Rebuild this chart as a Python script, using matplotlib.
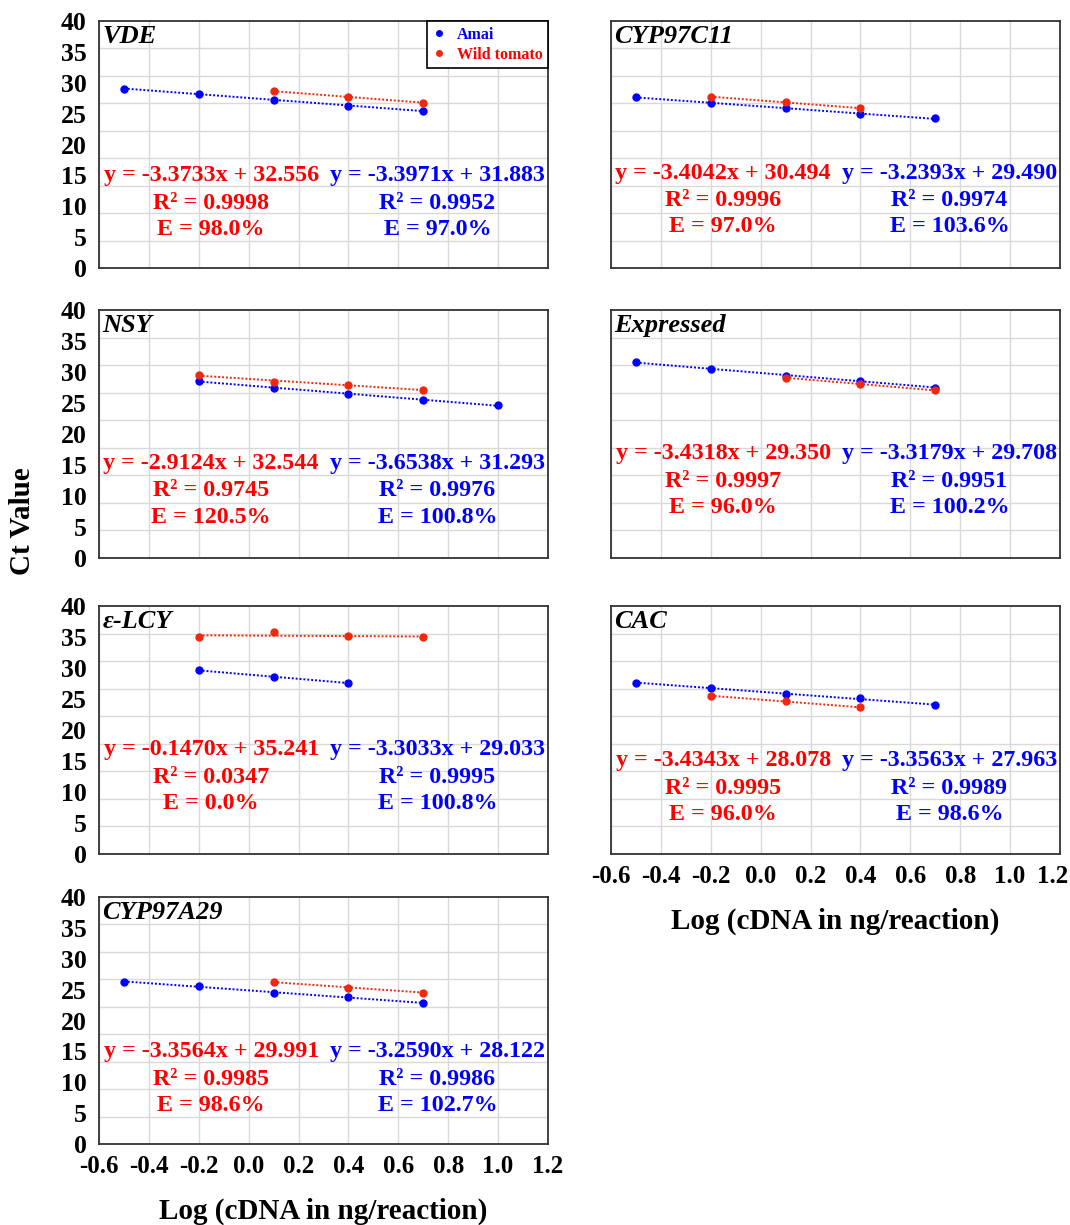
import matplotlib
matplotlib.use('Agg')
import matplotlib.pyplot as plt
import numpy as np
from matplotlib.lines import Line2D
from matplotlib.ticker import FixedLocator, FixedFormatter
from matplotlib.transforms import ScaledTranslation

plt.rcParams['font.family'] = ['Liberation Serif', 'DejaVu Serif']
plt.rcParams['font.weight'] = 'bold'
plt.rcParams['axes.labelweight'] = 'bold'
plt.rcParams['axes.unicode_minus'] = False

# ---- data ----
genes = ['VDE', 'CYP97C11', 'NSY', 'Expressed', 'ε-LCY', 'CAC', 'CYP97A29']

amai_x = [[-0.5, -0.2, 0.1, 0.4, 0.7],
          [-0.5, -0.2, 0.1, 0.4, 0.7],
          [-0.2, 0.1, 0.4, 0.7, 1.0],
          [-0.5, -0.2, 0.1, 0.4, 0.7],
          [-0.2, 0.1, 0.4],
          [-0.5, -0.2, 0.1, 0.4, 0.7],
          [-0.5, -0.2, 0.1, 0.4, 0.7]]
amai_ct = [[32.7, 31.7, 30.6, 29.6, 28.6],
           [31.2, 30.0, 29.1, 28.0, 27.3],
           [32.1, 30.9, 29.7, 28.7, 27.7],
           [35.5, 34.3, 33.1, 32.2, 30.9],
           [33.3, 32.2, 31.0],
           [31.1, 30.1, 29.0, 28.3, 27.0],
           [29.6, 28.7, 27.6, 26.7, 25.7]]

wild_x = [[0.1, 0.4, 0.7],
          [-0.2, 0.1, 0.4],
          [-0.2, 0.1, 0.4, 0.7],
          [0.1, 0.4, 0.7],
          [-0.2, 0.1, 0.4, 0.7],
          [-0.2, 0.1, 0.4],
          [0.1, 0.4, 0.7]]
wild_ct = [[32.2, 31.2, 30.1],
           [31.2, 30.2, 29.1],
           [33.2, 32.0, 31.4, 30.5],
           [32.7, 31.6, 30.4],
           [39.3, 40.2, 39.5, 39.3],
           [28.7, 27.7, 26.6],
           [29.5, 28.5, 27.6]]

wild_eq = ['y = -3.3733x + 32.556', 'y = -3.4042x + 30.494', 'y = -2.9124x + 32.544',
           'y = -3.4318x + 29.350', 'y = -0.1470x + 35.241', 'y = -3.4343x + 28.078',
           'y = -3.3564x + 29.991']
wild_r2 = ['0.9998', '0.9996', '0.9745', '0.9997', '0.0347', '0.9995', '0.9985']
wild_e = ['98.0%', '97.0%', '120.5%', '96.0%', '0.0%', '96.0%', '98.6%']

amai_eq = ['y = -3.3971x + 31.883', 'y = -3.2393x + 29.490', 'y = -3.6538x + 31.293',
           'y = -3.3179x + 29.708', 'y = -3.3033x + 29.033', 'y = -3.3563x + 27.963',
           'y = -3.2590x + 28.122']
amai_r2 = ['0.9952', '0.9974', '0.9976', '0.9951', '0.9995', '0.9989', '0.9986']
amai_e = ['97.0%', '103.6%', '100.8%', '100.2%', '100.8%', '98.6%', '102.7%']

x_ticks = [-0.6, -0.4, -0.2, 0.0, 0.2, 0.4, 0.6, 0.8, 1.0, 1.2]
y_labels = ['0', '5', '10', '15', '20', '25', '30', '35', '40']

# ---- layout ----
W, H = 1070, 1225
cols = [99, 611]
rows = [(21, 268), (310, 558), (606, 854), (897, 1144)]
panel_pos = [(0, 0), (1, 0), (0, 1), (1, 1), (0, 2), (1, 2), (0, 3)]
eq_y = [16.8, 17.3, 17.2, 18.9, 18.9, 16.9, 16.8]
bottom_panels = ['CAC', 'CYP97A29']

BLUE = '#0000FF'
RED = '#FF0000'
RED_M = '#F0280E'
FS_EQ = 17.3

fig = plt.figure(figsize=(W / 100, H / 100), dpi=100)

for i, g in enumerate(genes):
    c, r = panel_pos[i]
    top, bot = rows[r]
    ax = fig.add_axes([cols[c] / W, 1 - bot / H, 449 / W, (bot - top) / H])
    ax.set_xlim(-0.6, 1.2)
    ax.set_ylim(0, 45)

    # grid every 5 Ct; labels spread over the frame like the original
    ax.yaxis.set_minor_locator(FixedLocator(np.arange(0, 46, 5)))
    ax.yaxis.set_major_locator(FixedLocator(np.linspace(0, 45, 9)))
    ax.xaxis.set_major_locator(FixedLocator(x_ticks))
    ax.grid(which='minor', axis='y', color='#d9d9d9', lw=1)
    ax.grid(which='major', axis='x', color='#d9d9d9', lw=1)
    ax.tick_params(which='both', length=0)
    ax.tick_params(axis='y', pad=9, labelsize=18.5)
    ax.tick_params(axis='x', pad=8, labelsize=18)
    ax.set_axisbelow(True)

    if c == 0:
        ax.yaxis.set_major_formatter(FixedFormatter(y_labels))
    else:
        ax.set_yticklabels([])
    if g in bottom_panels:
        ax.set_xticklabels(['%.1f' % t for t in x_ticks], fontweight='bold')
        ax.set_xlabel('Log (cDNA in ng/reaction)', fontsize=21, fontweight='bold', labelpad=14)
        if c == 1:
            lab = ax.get_xticklabels()[-1]
            lab.set_transform(lab.get_transform() + ScaledTranslation(-0.07, 0, fig.dpi_scale_trans))
    else:
        ax.set_xticklabels([])
    for lab in ax.get_yticklabels():
        lab.set_fontweight('bold')

    for s in ax.spines.values():
        s.set_color('#333333')
        s.set_linewidth(1.3)

    for xs, ys, col in [(amai_x[i], amai_ct[i], BLUE), (wild_x[i], wild_ct[i], RED_M)]:
        xs = np.array(xs)
        k, b = np.polyfit(xs, ys, 1)
        ax.plot(xs, k * xs + b, ls=(0, (1, 1)), lw=1.4, color=col)
        ax.plot(xs, ys, ls='none', marker='o', ms=5, color=col)

    ax.text(0.008, 0.985, g, transform=ax.transAxes, ha='left', va='top',
            fontsize=19, style='italic', fontweight='bold')

    y0 = eq_y[i]
    kw = dict(fontsize=FS_EQ, fontweight='bold', ha='center', va='center')
    ax.text(-0.15, y0, wild_eq[i], color=RED, **kw)
    ax.text(-0.15, y0 - 5.0, 'R² = ' + wild_r2[i], color=RED, **kw)
    ax.text(-0.15, y0 - 9.8, 'E = ' + wild_e[i], color=RED, **kw)
    ax.text(0.757, y0, amai_eq[i], color=BLUE, **kw)
    ax.text(0.757, y0 - 5.0, 'R² = ' + amai_r2[i], color=BLUE, **kw)
    ax.text(0.757, y0 - 9.8, 'E = ' + amai_e[i], color=BLUE, **kw)

    if g == 'VDE':
        handles = [Line2D([], [], ls='none', marker='o', ms=4, color=BLUE, label='Amai'),
                   Line2D([], [], ls='none', marker='o', ms=4, color=RED_M, label='Wild tomato')]
        leg = ax.legend(handles=handles, loc='upper right', bbox_to_anchor=(1, 1),
                        borderaxespad=0, fancybox=False, edgecolor='black', framealpha=1,
                        prop={'family': 'Liberation Serif', 'weight': 'bold', 'size': 11.5},
                        labelcolor=[BLUE, RED], handlelength=0.8, handletextpad=0.7,
                        borderpad=0.35, labelspacing=0.25)
        leg.get_frame().set_linewidth(1.2)

fig.text(23 / W, 1 - 521 / H, 'Ct Value', rotation=90, ha='center', va='center',
         fontsize=21, fontweight='bold')

fig.savefig('out.png', dpi=100)
